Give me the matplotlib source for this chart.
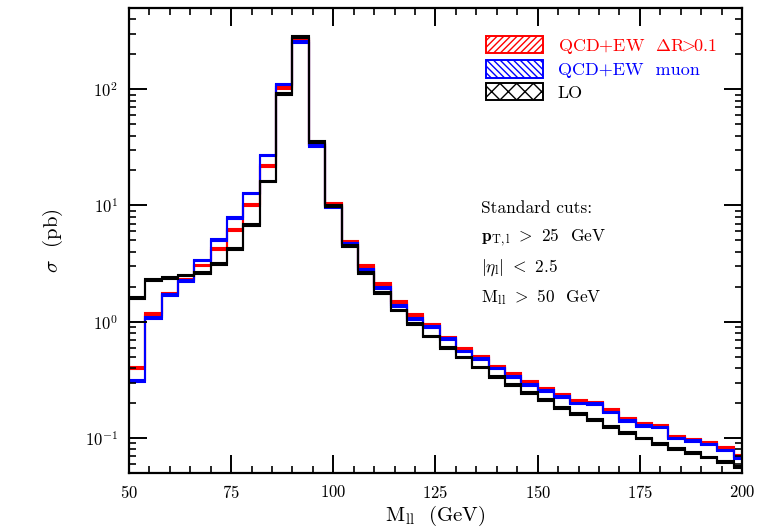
import numpy as np
import matplotlib
matplotlib.use("Agg")
import matplotlib.pyplot as plt
from matplotlib.patches import Patch

plt.rcParams['font.family'] = ['cmr10', 'DejaVu Serif']
plt.rcParams['mathtext.fontset'] = 'cm'
plt.rcParams['axes.formatter.use_mathtext'] = True
plt.rcParams['hatch.linewidth'] = 1.0

# bin edges in M_ll (GeV), 4 GeV bins
edges = np.arange(50, 203, 4)

# cross sections per bin (pb)
lo = [1.60, 2.28, 2.39, 2.50, 2.61, 3.15, 4.20, 6.81, 16.1, 90.6,
      280, 35.1, 9.9, 4.48, 2.64, 1.77, 1.25, 0.955, 0.748, 0.593,
      0.492, 0.404, 0.337, 0.286, 0.242, 0.212, 0.182, 0.161, 0.143, 0.125,
      0.111, 0.099, 0.0887, 0.080, 0.074, 0.068, 0.062, 0.056]
qcd_ew_dr = [0.40, 1.17, 1.72, 2.27, 3.05, 4.20, 6.17, 10.1, 21.7, 103,
             266, 33.5, 10.4, 4.89, 3.01, 2.12, 1.48, 1.135, 0.944, 0.723,
             0.581, 0.502, 0.412, 0.353, 0.301, 0.264, 0.237, 0.208, 0.201, 0.174,
             0.147, 0.131, 0.127, 0.103, 0.097, 0.091, 0.082, 0.070]
qcd_ew_muon = [0.31, 1.08, 1.70, 2.24, 3.37, 5.02, 7.78, 12.7, 26.9, 110,
               256, 32.4, 9.7, 4.64, 2.82, 1.96, 1.36, 1.06, 0.895, 0.71,
               0.555, 0.480, 0.396, 0.337, 0.286, 0.254, 0.226, 0.198, 0.196, 0.166,
               0.140, 0.127, 0.123, 0.099, 0.094, 0.088, 0.078, 0.067]

labels = [r'QCD+EW  $\Delta{\rm R}\!\!>\!\!0.1$', 'QCD+EW  muon', 'LO']
colors = ['red', 'blue', 'black']
hatches = ['/////', '\\\\\\\\\\', 'xx']

fig = plt.figure(figsize=(7.71, 5.32), dpi=100)
ax = fig.add_axes([0.1673, 0.1109, 0.7951, 0.8741])

band = 1.018
for vals, c, h in zip([qcd_ew_dr, qcd_ew_muon, lo], colors, hatches):
    v = np.array(vals)
    ax.stairs(v * band, edges, baseline=v / band, fill=True,
              facecolor='white', edgecolor=c, hatch=h, lw=1.5)

ax.set_yscale('log')
ax.set_xlim(50, 200)
ax.set_ylim(0.05, 500)
ax.set_xticks([50, 75, 100, 125, 150, 175, 200])
ax.set_xticks(np.arange(50, 201, 5), minor=True)

ax.tick_params(which='both', direction='in', top=True, right=True,
               labelsize=12)
ax.tick_params(which='major', length=13, width=1.4, pad=8)
ax.tick_params(which='minor', length=5, width=1.2)
for s in ax.spines.values():
    s.set_linewidth(1.6)

ax.set_xlabel(r'M$_{\rm ll}$  (GeV)', fontsize=15, labelpad=2)
ax.set_ylabel(r'$\sigma$  (pb)', fontsize=15, labelpad=14)

handles = [Patch(facecolor='white', edgecolor=c, hatch=h, lw=1.4)
           for c, h in zip(colors, hatches)]
leg = ax.legend(handles, labels, loc='upper left',
                bbox_to_anchor=(0.57, 0.955), frameon=False, fontsize=13,
                handlelength=3.2, handleheight=1.1, labelspacing=0.25,
                handletextpad=0.8, borderaxespad=0)
for t, c in zip(leg.get_texts(), colors):
    t.set_color(c)

cuts = ['Standard cuts:',
        r'$\mathbf{p}_{\rm T,l}$ $>$ 25  GeV',
        r'$|\eta_{\rm l}|$ $<$ 2.5',
        r'M$_{\rm ll}$ $>$ 50  GeV']
for i, line in enumerate(cuts):
    ax.text(0.575, 0.57 - i * 0.064, line, transform=ax.transAxes,
            fontsize=12.5, va='center', ha='left')

fig.savefig('out.png', dpi=100)
